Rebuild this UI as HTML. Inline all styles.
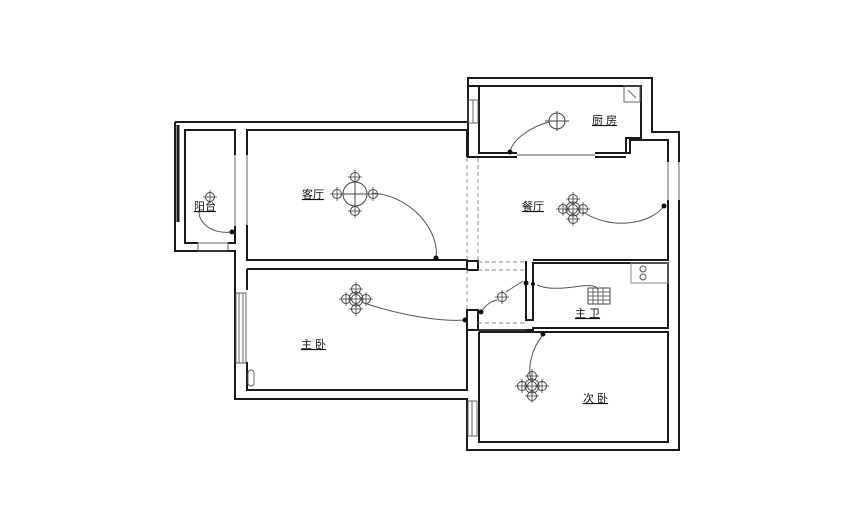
<!DOCTYPE html>
<html><head><meta charset="utf-8"><style>
html,body{margin:0;padding:0;background:#fff}
svg{display:block}
text{font-family:"Liberation Sans","Noto Sans CJK SC",sans-serif;font-size:11px;fill:#111;text-decoration:underline}
</style></head><body>
<svg width="860" height="525" viewBox="0 0 860 525" xmlns="http://www.w3.org/2000/svg">
<defs>
<g id="lamp"><circle r="4.5" fill="none" stroke="#444" stroke-width="1"/><line x1="-7" y1="0" x2="7" y2="0" stroke="#444" stroke-width="0.8"/><line x1="0" y1="-7" x2="0" y2="7" stroke="#444" stroke-width="0.8"/></g>
<g id="ch"><use href="#lamp"/><use href="#lamp" x="-10"/><use href="#lamp" x="10"/><use href="#lamp" y="-10"/><use href="#lamp" y="10"/><circle r="7" fill="none" stroke="#444"/></g>
</defs>
<g fill="none" stroke="#1a1a1a" stroke-width="2">
<polyline points="175,122 468,122 468,78 652,78 652,132 679,132 679,162"/>
<polyline points="679,200 679,450 467,450 467,399 235,399 235,251 175,251 175,122"/>
<line x1="178" y1="125" x2="178" y2="222" stroke-width="3"/>
<polyline points="235,155 235,130 185,130 185,243 198,243"/>
<polyline points="228,243 235,243 235,226"/>
<polyline points="247,155 247,130 467,130 467,157"/>
<polyline points="247,225 247,260 467,260 467,269"/>
<polyline points="468,100 468,86 479,86 479,153 517,153"/>
<polyline points="595,153 630,153 630,140 668,140 668,162"/>
<polyline points="479,86 641,86 641,138 626,138 626,153"/>
<polyline points="468,123 468,157 517,157"/>
<line x1="595" y1="157" x2="626" y2="157"/>
<polyline points="668,200 668,260 533,260"/>
<polyline points="247,269 467,269 467,261 478,261 478,270 467,270"/>
<polyline points="247,290 247,269"/>
<polyline points="247,362 247,390 467,390 467,310 478,310 478,330 467,330 467,390"/>
<polyline points="526,261 526,320 533,320 533,263 668,263 668,328 533,328 533,330 479,330"/>
<line x1="526" y1="330" x2="533" y2="330"/>
<polyline points="479,332 668,332 668,442 479,442 479,332"/>
<polyline points="467,400 467,410"/>
</g>
<g stroke="#555" stroke-width="0.9" fill="none">
<rect x="468" y="100" width="10" height="23"/><line x1="473" y1="100" x2="473" y2="123"/>
<line x1="668" y1="162" x2="668" y2="200"/><line x1="679" y1="162" x2="679" y2="200"/>
<line x1="517" y1="155" x2="595" y2="155"/>
<rect x="198" y="243" width="30" height="8"/>
<line x1="235" y1="155" x2="235" y2="226"/><line x1="247" y1="155" x2="247" y2="225"/>
<rect x="236" y="293" width="10" height="70"/><line x1="239" y1="293" x2="239" y2="363"/><line x1="243" y1="293" x2="243" y2="363"/>
<rect x="468" y="401" width="9" height="35"/><line x1="472" y1="401" x2="472" y2="436"/>
<line x1="479" y1="330" x2="526" y2="330"/>
<rect x="248" y="370" width="6" height="16" rx="3"/>
</g>
<g stroke="#888" stroke-width="0.9" stroke-dasharray="4,3" fill="none">
<line x1="467" y1="158" x2="467" y2="260"/><line x1="478" y1="158" x2="478" y2="260"/>
<line x1="478" y1="262" x2="526" y2="262"/><line x1="478" y1="270" x2="526" y2="270"/>
<line x1="478" y1="323" x2="526" y2="323"/>
<line x1="467" y1="270" x2="467" y2="310"/>
</g>
<use href="#lamp" x="210" y="197"/>
<g transform="translate(355,194)"><circle r="12" fill="none" stroke="#444"/><line x1="-12" y1="0" x2="12" y2="0" stroke="#444"/><line x1="0" y1="-12" x2="0" y2="12" stroke="#444"/><use href="#lamp" x="-18"/><use href="#lamp" x="18"/><use href="#lamp" y="-17"/><use href="#lamp" y="17"/></g>
<g transform="translate(557,121)"><circle r="8" fill="none" stroke="#444"/><line x1="-12" y1="0" x2="12" y2="0" stroke="#444"/><line x1="0" y1="-10" x2="0" y2="10" stroke="#444"/></g>
<use href="#ch" x="573" y="209"/>
<use href="#ch" x="356" y="299"/>
<use href="#ch" x="532" y="386"/>
<use href="#lamp" x="502" y="297"/>
<g fill="none" stroke="#555" stroke-width="1">
<path d="M372,193 C410,195 440,230 436,258"/>
<path d="M583,212 C610,230 650,225 664,206"/>
<path d="M549,122 C530,127 512,140 510,152"/>
<path d="M200,207 C195,220 210,235 232,232"/>
<path d="M364,303 C400,315 440,322 465,320"/>
<path d="M497,300 C488,302 483,308 481,314"/>
<path d="M537,285 C560,295 595,278 598,290"/>
<path d="M543,335 C530,350 528,370 531,380"/>
<path d="M523,281 C520,283 512,288 506,292"/>
</g>
<g fill="#111">
<circle cx="436" cy="258" r="2.5"/><circle cx="664" cy="206" r="2.5"/><circle cx="510" cy="152" r="2.5"/><circle cx="232" cy="232" r="2.5"/><circle cx="465" cy="320" r="2.5"/><circle cx="481" cy="312" r="2.5"/><circle cx="526" cy="283" r="2.5"/><circle cx="533" cy="284" r="2"/><circle cx="543" cy="334" r="2.5"/>
</g>
<rect x="624" y="86" width="16" height="16" fill="none" stroke="#666"/>
<line x1="628" y1="90" x2="636" y2="98" stroke="#666"/>
<rect x="631" y="263" width="37" height="20" fill="none" stroke="#888"/>
<circle cx="643" cy="269" r="3" fill="none" stroke="#555"/><circle cx="643" cy="277" r="3" fill="none" stroke="#555"/>
<rect x="588" y="288" width="22" height="16" fill="none" stroke="#444"/>
<path d="M588,292H610M588,296H610M588,300H610M593,288V304M598,288V304M603,288V304" stroke="#444" stroke-width="0.8"/>
<text x="302" y="198">客厅</text>
<text x="592" y="124">厨 房</text>
<text x="522" y="210">餐厅</text>
<text x="194" y="210">阳台</text>
<text x="301" y="348">主 卧</text>
<text x="575" y="317">主 卫</text>
<text x="583" y="402">次 卧</text>
</svg>
</body></html>
